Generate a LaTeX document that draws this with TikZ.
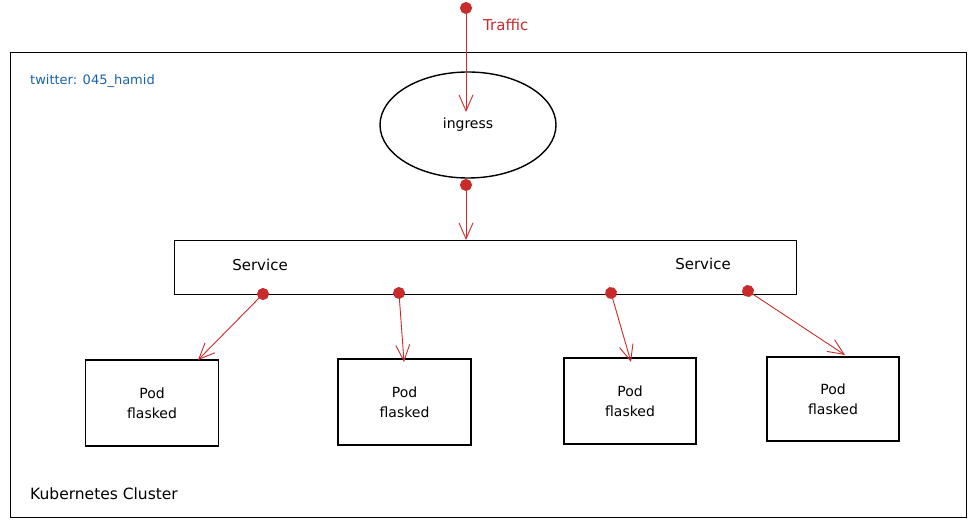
\documentclass[tikz,border=0pt]{standalone}
\usepackage{fontspec}
\setmainfont{DejaVu Sans}
\usetikzlibrary{arrows.meta,shapes.geometric}
\definecolor{sred}{RGB}{201,42,42}
\definecolor{sblue}{RGB}{24,100,171}
\tikzset{
  box/.style={draw=black, line width=1.4pt, rectangle, inner sep=0pt},
  podbox/.style={box, minimum width=133pt, minimum height=86pt, align=center, font=\fontsize{14}{20}\selectfont},
  conn/.style={draw=sred, line width=0.9pt, {Circle[length=12pt,sep=-6pt]}-{Straight Barb[length=16pt,width=14pt]}},
  lbl/.style={font=\fontsize{15}{17}\selectfont, anchor=west, inner sep=0pt},
}
\begin{document}
\begin{tikzpicture}[x=1pt,y=-1pt]
\useasboundingbox (0,0) rectangle (976,526);
\node[box, minimum width=956pt, minimum height=465pt, anchor=north west] (cluster) at (10,52) {};
\node[lbl, text=sblue, font=\fontsize{13}{15}\selectfont] (tw) at (30,81) {twitter: 045\_hamid};
\node[lbl, font=\fontsize{15.5}{17}\selectfont] (kc) at (30,494) {Kubernetes Cluster};
\node[draw=black, line width=1.4pt, ellipse, minimum width=176pt, minimum height=106pt, font=\fontsize{14}{16}\selectfont] (ing) at (468,125) {ingress};
\coordinate (src) at (466,8);
\coordinate (ingtip) at (466,112);
\draw[conn] (src) -- (ingtip);
\node[lbl, text=sred] (tr) at (483,25) {Traffic};
\node[box, minimum width=622pt, minimum height=54pt, anchor=north west] (svc) at (174,240) {};
\node[lbl, anchor=center] (s1) at (260,265) {Service};
\node[lbl, anchor=center] (s2) at (703,264) {Service};
\node[podbox] (p1) at (152,403) {Pod\\flasked};
\node[podbox] (p2) at (404.5,402) {Pod\\flasked};
\node[podbox, minimum width=132pt] (p3) at (630,401) {Pod\\flasked};
\node[podbox, minimum width=132pt, minimum height=84pt] (p4) at (833,399) {Pod\\flasked};
\coordinate (d0) at (466,185);
\coordinate (d1) at (263,294);
\coordinate (d2) at (399,293);
\coordinate (d3) at (611,293);
\coordinate (d4) at (748,291);
\coordinate (t1) at (198,360);
\coordinate (t2) at (404,362);
\coordinate (t3) at (631,362);
\coordinate (t4) at (845,355);
\draw[conn] (d0) -- (svc.north -| d0);
\draw[conn] (d1) -- (t1);
\draw[conn] (d2) -- (t2);
\draw[conn] (d3) -- (t3);
\draw[conn] (d4) -- (t4);
\end{tikzpicture}
\end{document}
